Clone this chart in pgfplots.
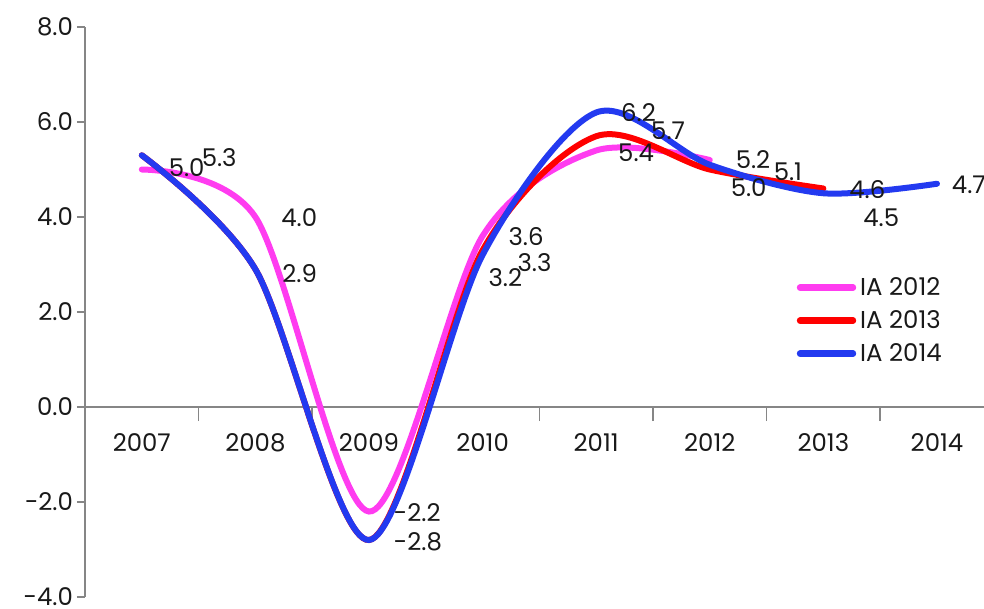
\documentclass[border=0pt]{standalone}
\usepackage{pgfplots}
\pgfplotsset{compat=1.18}
\usepackage{pgfplotstable}
\usepackage{fontspec}
\setmainfont{Poppins}

\definecolor{cmag}{RGB}{255,60,240}
\definecolor{cred}{RGB}{255,0,0}
\definecolor{cblue}{RGB}{35,58,240}
\definecolor{caxis}{RGB}{134,134,134}
\definecolor{ctext}{RGB}{25,25,25}

% IA 2012
\pgfplotstableread{
x y dx dy
0 5.0 12 0.7
1 4.0 11.5 -0.5
2 -2.2 11 -0.7
3 3.6 11.5 -0.5
4 5.4 9.5 -1.2
5 5.2 11.5 0
}\tabA
% IA 2013 (line)
\pgfplotstableread{
x y
0 5.3
1 2.9
2 -2.8
3 3.3
4 5.7
5 5.0
6 4.6
}\tabB
% IA 2013 (labels)
\pgfplotstableread{
x y dx dy
3 3.3 16 -6
4 5.7 26 3
5 5.0 9 -9.2
6 4.6 11.5 -0.7
}\tabBl
% IA 2014
\pgfplotstableread{
x y dx dy
0 5.3 28.5 -1
1 2.9 12 -2
2 -2.8 11 -1
3 3.2 1.5 -11.5
4 6.2 11 0
5 5.1 30.5 -3.6
6 4.5 18.5 -12.4
7 4.7 6 -0.6
}\tabC

\pgfplotsset{
  lbl/.style={draw=none, forget plot, mark=none,
    nodes near coords, point meta=explicit,
    visualization depends on={\thisrow{dx}\as\dx},
    visualization depends on={\thisrow{dy}\as\dy},
    nodes near coords style={anchor=west, inner sep=0pt, text=ctext,
      xshift=\dx pt, yshift=\dy pt, font=\fontsize{12.2}{14}\selectfont,
      /pgf/number format/fixed, /pgf/number format/precision=1,
      /pgf/number format/fixed zerofill}},
}

\begin{document}
\begin{tikzpicture}
\begin{axis}[
  scale only axis,
  width=449.5pt, height=285pt,
  xmin=-0.5, xmax=7.414,
  ymin=-4, ymax=8,
  axis x line=middle, axis y line=left,
  axis line style={-, draw=caxis, line width=0.75pt},
  /pgf/number format/assume math mode=true,
  xtick={0,...,7},
  xticklabels={2007,2008,2009,2010,2011,2012,2013,2014},
  major x tick style={draw=none},
  minor xtick={0.5,1.5,...,6.5},
  minor x tick style={draw=caxis, line width=0.75pt},
  minor tick length=7pt,
  ytick={-4,-2,...,8},
  y tick style={draw=caxis, line width=0.75pt},
  major tick length=4pt,
  tick align=outside,
  ticklabel style={font=\fontsize{12.2}{14}\selectfont, text=ctext},
  xticklabel style={anchor=center, yshift=-14pt},
  yticklabel style={xshift=1.5pt, /pgf/number format/fixed, /pgf/number format/precision=1,
    /pgf/number format/fixed zerofill},
  clip=false,
  legend style={draw=none, fill=none, at={(axis cs:5.71,2.91)}, anchor=north west,
    font=\fontsize{12.2}{14}\selectfont, text=ctext, row sep=2pt,
    legend cell align=left},
  legend image code/.code={\draw[#1, line width=3.2pt, line cap=round] (0pt,0pt) -- (26.5pt,0pt);},
  every axis plot/.append style={line width=3pt, line cap=round, smooth, mark=none},
]
\addplot[cmag] table[x=x, y=y] {\tabA};
\addlegendentry{IA 2012}
\addplot[cred] table[x=x, y=y] {\tabB};
\addlegendentry{IA 2013}
\addplot[cblue] table[x=x, y=y] {\tabC};
\addlegendentry{IA 2014}
\addplot[lbl] table[x=x, y=y, meta=y] {\tabA};
\addplot[lbl] table[x=x, y=y, meta=y] {\tabBl};
\addplot[lbl] table[x=x, y=y, meta=y] {\tabC};
\end{axis}
\pgfresetboundingbox
\path[use as bounding box] ([xshift=-42.5pt, yshift=-5.5pt]current axis.south west) rectangle ([xshift=0pt, yshift=13.5pt]current axis.north east);
\end{tikzpicture}
\end{document}
